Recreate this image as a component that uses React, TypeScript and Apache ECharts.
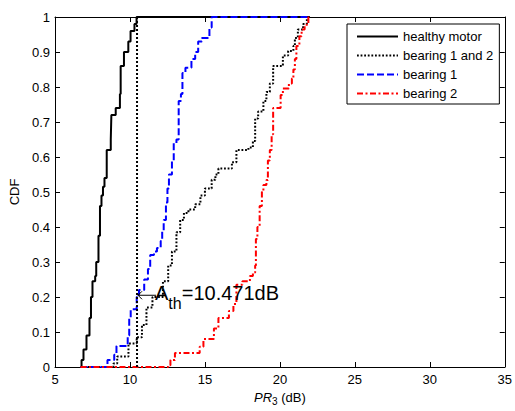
import React, { useEffect, useRef } from "react";
import * as echarts from "echarts";

// ---- data ----
const xTickMin = 5;
const xTickMax = 35;
const xTickStep = 5;
const yTickMin = 0;
const yTickMax = 1;
const yTickStep = 0.1;

const seriesNames = ["healthy motor", "bearing 1 and 2", "bearing 1", "bearing 2"];

const healthyMotor: [number, number][] = [
  [6.7, 0], [6.77, 0.02], [6.9, 0.05], [7.1, 0.09], [7.3, 0.14], [7.4, 0.2], [7.5, 0.245],
  [7.68, 0.26], [7.75, 0.3], [7.9, 0.375], [8.0, 0.46], [8.1, 0.49], [8.2, 0.515], [8.3, 0.54],
  [8.45, 0.62], [8.72, 0.65], [8.76, 0.72], [9.05, 0.74], [9.33, 0.78], [9.38, 0.86], [9.6, 0.9],
  [9.89, 0.93], [10.04, 0.96], [10.3, 0.98], [10.44, 1], [22, 1],
];

const bearing12: [number, number][] = [
  [6.7, 0], [8.9, 0.01], [9.15, 0.03], [9.9, 0.067], [10.45, 0.085], [10.8, 0.12], [11.1, 0.17],
  [11.5, 0.2], [12.2, 0.245], [12.55, 0.29], [12.8, 0.33], [13.1, 0.385], [13.35, 0.42],
  [13.6, 0.44], [13.9, 0.45], [14.35, 0.465], [14.7, 0.49], [15.0, 0.51], [15.45, 0.535],
  [15.7, 0.55], [15.9, 0.567], [16.8, 0.585], [17.1, 0.62], [17.9, 0.627], [18.2, 0.646],
  [18.35, 0.71], [18.55, 0.73], [18.9, 0.76], [19.1, 0.786], [19.33, 0.81], [19.55, 0.86],
  [20.2, 0.89], [20.55, 0.903], [20.9, 0.917], [21.0, 0.94], [21.2, 0.964], [21.55, 0.98],
  [21.8, 1], [22, 1],
];

const bearing1: [number, number][] = [
  [6.7, 0], [8.5, 0.02], [8.95, 0.035], [9.1, 0.06], [9.85, 0.09], [9.95, 0.14], [10.05, 0.165],
  [10.45, 0.2], [10.6, 0.22], [10.95, 0.25], [11.2, 0.28], [11.35, 0.32], [11.6, 0.33],
  [11.8, 0.34], [12.05, 0.36], [12.15, 0.39], [12.25, 0.42], [12.4, 0.47], [12.5, 0.51],
  [12.6, 0.55], [12.8, 0.59], [12.92, 0.64], [13.1, 0.65], [13.25, 0.76], [13.4, 0.78],
  [13.5, 0.84], [13.7, 0.855], [14.1, 0.88], [14.35, 0.9], [14.55, 0.93], [14.8, 0.94],
  [15.3, 0.97], [15.45, 1], [22, 1],
];

const bearing2: [number, number][] = [
  [6.7, 0], [12.55, 0.005], [12.7, 0.02], [13.0, 0.04], [14.65, 0.058], [14.9, 0.08],
  [15.6, 0.11], [15.9, 0.14], [16.6, 0.16], [16.9, 0.18], [17.1, 0.235], [17.5, 0.245],
  [18.0, 0.26], [18.2, 0.27], [18.35, 0.29], [18.4, 0.366], [18.5, 0.4], [18.65, 0.46],
  [18.8, 0.5], [18.9, 0.52], [19.1, 0.534], [19.2, 0.59], [19.33, 0.62], [19.45, 0.665],
  [19.55, 0.74], [20.05, 0.777], [20.2, 0.796], [20.6, 0.81], [20.8, 0.824], [20.9, 0.85],
  [21.0, 0.88], [21.1, 0.917], [21.3, 0.945], [21.45, 0.964], [21.65, 0.978], [21.9, 1], [22, 1],
];

const threshold = 10.471;
const thresholdLine: [number, number][] = [[threshold, 0], [threshold, 1]];
const arrowY = 0.205;
const annotationParts = ["A", "th", "=10.471dB"];

const FONT = "'Liberation Sans', Arial, Helvetica, sans-serif";

export default function App() {
  const ref = useRef<HTMLDivElement>(null);

  useEffect(() => {
    if (!ref.current) return;
    const chart = echarts.init(ref.current, null, { renderer: "svg" });

    const baseAxis = {
      min: xTickMin,
      max: xTickMax,
      interval: xTickStep,
      splitLine: { show: false },
      axisLine: { show: true, onZero: false, lineStyle: { color: "#000", width: 1 } },
      axisTick: { show: true, inside: true, length: 5, lineStyle: { color: "#000" } },
    };
    const baseYAxis = {
      min: yTickMin,
      max: yTickMax,
      interval: yTickStep,
      splitLine: { show: false },
      axisLine: { show: true, onZero: false, lineStyle: { color: "#000", width: 1 } },
      axisTick: { show: true, inside: true, length: 5, lineStyle: { color: "#000" } },
    };

    const hiddenSymbol = {
      opacity: 0,
      color: "rgba(0,0,0,0)",
      borderColor: "rgba(0,0,0,0)",
      borderWidth: 0,
    };

    const option: any = {
      animation: false,
      backgroundColor: "#fff",
      textStyle: { fontFamily: FONT },
      grid: { left: 54, right: 9, top: 17, bottom: 37, containLabel: false },
      legend: {
        data: seriesNames,
        orient: "vertical",
        left: 347,
        top: 24,
        padding: [6, 6, 4, 9],
        itemWidth: 41,
        itemHeight: 14,
        itemGap: 6,
        backgroundColor: "#fff",
        borderColor: "#000",
        borderWidth: 1,
        borderRadius: 0,
        itemStyle: hiddenSymbol,
        textStyle: { color: "#000", fontSize: 13, fontFamily: FONT },
      },
      xAxis: [
        {
          ...baseAxis,
          type: "value",
          position: "bottom",
          name: "{i|PR}{s|3}{n| (dB)}",
          nameLocation: "middle",
          nameGap: 22,
          nameTextStyle: {
            color: "#000",
            fontSize: 13,
            fontFamily: FONT,
            rich: {
              i: { fontStyle: "italic", fontSize: 13, fontFamily: FONT, color: "#000" },
              s: { fontSize: 10, fontFamily: FONT, color: "#000", padding: [7, 0, 0, 0] },
              n: { fontSize: 13, fontFamily: FONT, color: "#000" },
            },
          },
          axisLabel: { color: "#000", fontSize: 13, fontFamily: FONT, margin: 6 },
        },
        {
          ...baseAxis,
          type: "value",
          position: "top",
          axisLabel: { show: false },
        },
      ],
      yAxis: [
        {
          ...baseYAxis,
          type: "value",
          position: "left",
          name: "CDF",
          nameLocation: "middle",
          nameRotate: 90,
          nameGap: 34,
          nameTextStyle: { color: "#000", fontSize: 13, fontFamily: FONT },
          axisLabel: {
            color: "#000",
            fontSize: 13,
            fontFamily: FONT,
            margin: 5,
            formatter: (v: number) => (v === 0 || v === 1 ? String(v) : v.toFixed(1)),
          },
        },
        {
          ...baseYAxis,
          type: "value",
          position: "right",
          axisLabel: { show: false },
        },
      ],
      series: [
        {
          name: seriesNames[0],
          type: "line",
          step: "end",
          symbol: "none",
          clip: false,
          data: healthyMotor,
          lineStyle: { color: "#000", width: 2, type: "solid" },
          itemStyle: { color: "#000" },
          z: 2,
        },
        {
          name: seriesNames[1],
          type: "line",
          step: "end",
          symbol: "none",
          clip: false,
          data: bearing12,
          lineStyle: { color: "#000", width: 2, type: [1.8, 1.8] },
          itemStyle: { color: "#000" },
          z: 3,
        },
        {
          name: seriesNames[2],
          type: "line",
          step: "end",
          symbol: "none",
          clip: false,
          data: bearing1,
          lineStyle: { color: "#0000ff", width: 2, type: [7, 3] },
          itemStyle: { color: "#0000ff" },
          z: 4,
        },
        {
          name: seriesNames[3],
          type: "line",
          step: "end",
          symbol: "none",
          clip: false,
          data: bearing2,
          lineStyle: { color: "#ff0000", width: 2, type: [6, 2.5, 2, 2.5] },
          itemStyle: { color: "#ff0000" },
          z: 5,
        },
        {
          name: "threshold",
          type: "line",
          symbol: "none",
          clip: false,
          data: thresholdLine,
          lineStyle: { color: "#000", width: 2, type: [2, 2] },
          itemStyle: { color: "#000" },
          z: 6,
        },
      ],
    };

    chart.setOption(option);

    const p = chart.convertToPixel({ gridIndex: 0 }, [threshold, arrowY]) as number[];
    const ax = p[0];
    const ay = p[1];
    chart.setOption({
      graphic: [
        {
          type: "line",
          shape: { x1: ax + 1, y1: ay, x2: ax + 19, y2: ay },
          style: { stroke: "#000", lineWidth: 1 },
          z: 100,
        },
        {
          type: "polyline",
          shape: { points: [[ax + 5, ay - 4], [ax + 1, ay], [ax + 5, ay + 4]] },
          style: { stroke: "#000", fill: null, lineWidth: 1 },
          z: 100,
        },
        {
          type: "text",
          x: ax + 18,
          y: ay - 2.7,
          style: {
            text: annotationParts[0],
            fontSize: 20,
            fontFamily: FONT,
            fill: "#000",
            textAlign: "left",
            textVerticalAlign: "middle",
          },
          z: 100,
        },
        {
          type: "text",
          x: ax + 31.3,
          y: ay + 8.7,
          style: {
            text: annotationParts[1],
            fontSize: 16,
            fontFamily: FONT,
            fill: "#000",
            textAlign: "left",
            textVerticalAlign: "middle",
          },
          z: 100,
        },
        {
          type: "text",
          x: ax + 44.7,
          y: ay - 2.7,
          style: {
            text: annotationParts[2],
            fontSize: 20,
            fontFamily: FONT,
            fill: "#000",
            textAlign: "left",
            textVerticalAlign: "middle",
          },
          z: 100,
        },
      ],
    });

    return () => chart.dispose();
  }, []);

  return (
    <div
      ref={ref}
      style={{ position: "absolute", left: 0, top: 0, width: 515, height: 411 }}
    />
  );
}
